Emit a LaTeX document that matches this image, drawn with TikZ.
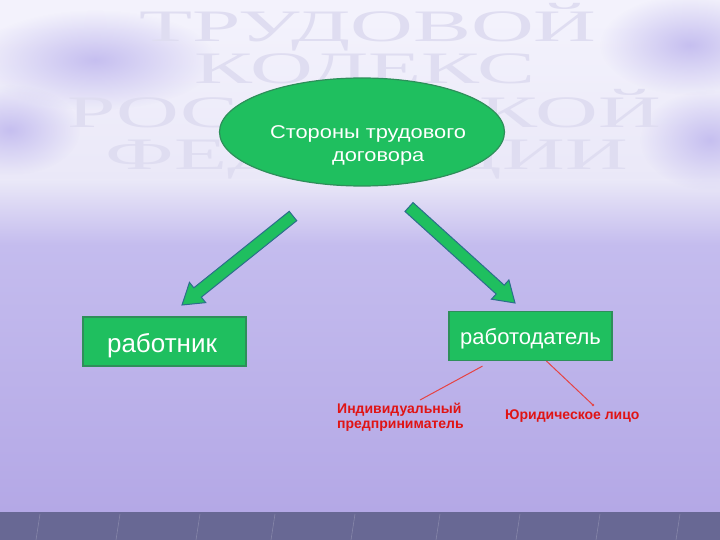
\documentclass[tikz,border=0pt]{standalone}
\usepackage{fontspec}
\setmainfont{Liberation Sans}
\newfontfamily\wmfont{Liberation Serif}
\newfontfamily\widesans[FakeStretch=1.18]{Liberation Sans}
\usetikzlibrary{calc,shapes.geometric,fadings}
\tikzfading[name=softblob, inner color=transparent!0, outer color=transparent!100]
\definecolor{bgtop}{HTML}{F3F2FC}
\definecolor{bgpale}{HTML}{EAE8F8}
\definecolor{bgmid}{HTML}{C4BCEE}
\definecolor{bgbot}{HTML}{B4A8E6}
\definecolor{blob}{HTML}{C6BFF0}
\definecolor{band}{HTML}{686894}
\definecolor{boxgreen}{HTML}{1FBF5F}
\definecolor{boxedge}{HTML}{2E8F5A}
\definecolor{arrowedge}{HTML}{2C6E8C}
\definecolor{wm}{HTML}{DFDDF1}
\definecolor{redtxt}{HTML}{E01414}
\tikzset{
  partybox/.style={draw=boxedge, line width=1.2pt, fill=boxgreen, text=white,
    minimum width=163pt, minimum height=49pt, inner sep=0pt},
  mainell/.style={ellipse, draw=boxedge, line width=1.2pt, fill=boxgreen, text=white,
    font=\widesans\fontsize{18.5}{22.5}\selectfont, minimum width=285pt, minimum height=108pt, inner sep=0pt},
  wmtext/.style={text=wm, font=\wmfont\fontsize{45}{45}\selectfont, inner sep=0pt, anchor=base, xscale=1.93},
  redlabel/.style={text=redtxt, font=\bfseries\fontsize{14}{15.5}\selectfont, inner sep=0pt, align=left},
  redline/.style={draw=redtxt!80!white, line width=1pt},
  greenarrow/.style={draw=arrowedge, line width=1pt, fill=boxgreen, line join=miter},
  blobfill/.style={fill=blob, path fading=softblob}
}
\begin{document}
\begin{tikzpicture}[x=1pt,y=-1pt]
\useasboundingbox (0,0) rectangle (720,540);
% background
\fill[bgtop] (0,0) rectangle (720,20);
\shade[top color=bgtop, bottom color=bgpale] (0,20) rectangle (720,180);
\shade[top color=bgpale, bottom color=bgmid] (0,180) rectangle (720,245);
\shade[top color=bgmid, bottom color=bgbot] (0,245) rectangle (720,512);
\fill[blobfill] (95,60) ellipse (120 and 50);
\fill[blobfill] (10,130) ellipse (70 and 45);
\fill[blobfill] (690,45) ellipse (90 and 50);
\fill[blobfill] (710,140) ellipse (70 and 50);
\fill[band] (0,512) rectangle (720,540);
\foreach \xx in {40,120,200,275,355,440,520,600,680}{
  \draw[band!80!white, line width=0.6pt] (\xx,514) -- (\xx-4,540);
}
% watermark
\node[wmtext] (wm1) at (368,42) {ТРУДОВОЙ};
\node[wmtext] (wm2) at (365,84) {КОДЕКС};
\node[wmtext] (wm3) at (364,128) {РОССИЙСКОЙ};
\node[wmtext] (wm4) at (367,170) {ФЕДЕРАЦИИ};
% main ellipse
\node[mainell] (top) at (362,132) {\raisebox{-18pt}[0pt][0pt]{\begin{tabular}{@{}l@{}}\hspace*{6pt}Стороны трудового\hspace*{-6pt}\\\hspace*{68pt}договора\end{tabular}}};
% boxes
\node[partybox, font=\fontsize{26}{30}\selectfont] (worker) at (164.5,341.5) {\raisebox{-10.5pt}[0pt][0pt]{\hspace*{-5pt}работник}};
\node[partybox, font=\fontsize{22}{26}\selectfont] (employer) at (530.5,336) {\raisebox{-8pt}[0pt][0pt]{работодатель}};
% arrows (block)
\coordinate (ls) at (293,216);
\coordinate (le) at (182,305);
\coordinate (rs) at (409,207);
\coordinate (re) at (515,303);
\foreach \s/\e in {ls/le, rs/re}{
  \coordinate (hb) at ($(\e)!20pt!(\s)$);
  \draw[greenarrow]
    ($(\s)!6pt!90:(\e)$) -- ($(hb)!6pt!-90:(\s)$) -- ($(hb)!13pt!-90:(\s)$) -- (\e)
    -- ($(hb)!13pt!90:(\s)$) -- ($(hb)!6pt!90:(\s)$) -- ($(\s)!6pt!-90:(\e)$) -- cycle;
}
% red labels
\node[redlabel, anchor=base west] (ip) at (337,428.5) {Индивидуальный\\предприниматель};
\node[redlabel, anchor=base west] (ul) at (505,419) {Юридическое лицо};
\coordinate (ipend) at (420,400);
\coordinate (ulend) at (593,405);
\draw[redline] ($(employer.south)+(-48,5)$) -- (ipend);
\draw[redline] ($(employer.south)+(16,0)$) -- (ulend);
\fill[redtxt!80!white] (ulend) circle (1.4pt);
\end{tikzpicture}
\end{document}
